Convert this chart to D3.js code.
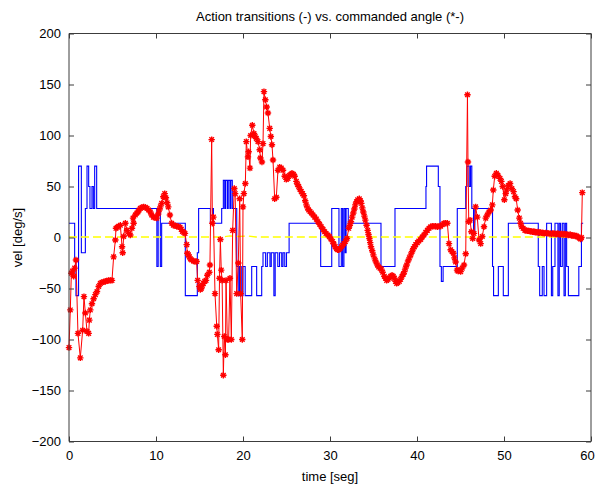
<!DOCTYPE html>
<html>
<head>
<meta charset="utf-8">
<script src="https://cdn.jsdelivr.net/npm/d3@7/dist/d3.min.js"></script>
<style>
  body { margin: 0; background: #fff; }
  text { font-family: "Liberation Sans", Arial, sans-serif; fill: #000; }
</style>
</head>
<body>
<svg id="mainSvg" width="597" height="489"></svg>
<script>
// axis ticks
var xTicks = [0, 10, 20, 30, 40, 50, 60];
var yTicks = [-200, -150, -100, -50, 0, 50, 100, 150, 200];

// action transitions (-), step signal
var blueTime = [0, 0.65, 0.8, 1.1, 1.42, 1.88, 2.07, 2.26, 2.41, 2.64, 2.8, 2.95, 3.18,
  10.1, 10.25, 10.5, 10.65, 13.37, 14.75, 14.9, 16.25, 16.5, 16.6, 17.55, 17.74, 17.9, 18.0,
  18.2, 18.3, 18.5, 18.6, 18.77, 19.28, 19.45, 19.6, 19.8, 20.0, 20.25, 21.0, 21.57, 22.15,
  22.3, 22.6, 22.8, 23.1, 23.25, 23.55, 23.7, 24.0, 24.2, 24.45, 24.6, 24.8, 25.0, 25.3,
  28.93, 30.2, 31.03, 31.3, 31.45, 31.6, 31.75, 31.85, 32.1, 35.86, 37.47, 41.03, 41.1,
  42.45, 42.64, 42.8, 43.0, 44.63, 45.6, 45.75, 46.0, 46.15, 46.3, 46.5, 46.65, 48.68,
  48.8, 49.35, 49.92, 50.5, 53.94, 54.1, 54.4, 54.6, 54.9, 55.45, 55.6, 55.86, 56.2,
  56.35, 56.5, 56.7, 56.9, 57.05, 57.2, 57.4, 58.6, 58.9, 59.1];
var blueVel = [14, -21, -57, 70, -15, 28.5, 70, 50, 28.5, 50, 28.5, 70, 28.5,
  -28.5, 28.5, -28.5, 14, -57, -15, 28.5, 14, 28.5, 14, 28.5, 56, 28.5, 56,
  28.5, 56, 28.5, 56, 28.5, -28.5, -57, -28.5, -57, -28.5, -57, -28.5, -57, -28.5,
  -15, -28.5, -15, -28.5, -15, -57, -15, -28.5, -15, -28.5, -15, -28.5, -15, 14,
  -28.5, 28.5, -28.5, 28.5, -28.5, 28.5, -15, 28.5, 14, -28.5, 28.5, 50, 70,
  50, -28.5, -43, -28.5, 28.5, 50, 70, 50, 70, 28.5, 4, 28.5, -28.5,
  -57, -28.5, -57, 14, -28.5, -57, -28.5, -57, 14, -57, -28.5, 14, -57,
  14, -28.5, 14, -57, 14, -28.5, -57, -28.5, 14, 14];

// commanded angle (*-)
var redTime = [0, 0.15, 0.27, 0.4, 0.54, 0.65, 0.8, 1.03, 1.3, 1.57, 1.72, 1.88, 2.07, 2.26,
  2.34, 2.45, 2.64, 2.83, 3.03, 3.22, 3.41, 3.6, 3.79, 4.0, 4.18, 4.37, 4.56, 4.75, 4.94,
  5.13, 5.33, 5.4, 5.55, 5.71, 5.9, 6.1, 6.17, 6.28, 6.48, 6.67, 6.86, 7.05, 7.24, 7.36,
  7.43, 7.62, 7.8, 7.93, 8.05, 8.2, 8.4, 8.58, 8.78, 8.97, 9.15, 9.35, 9.5, 9.7, 9.9,
  10.08, 10.25, 10.38, 10.5, 10.65, 10.84, 11.0, 11.14, 11.28, 11.41, 11.6, 11.8, 11.99,
  12.2, 12.38, 12.57, 12.76, 12.9, 13.03, 13.2, 13.33, 13.53, 13.6, 13.72, 13.83, 13.95,
  14.1, 14.3, 14.48, 14.67, 14.79, 14.98, 15.1, 15.2, 15.32, 15.44, 15.6, 15.75, 15.9,
  16.13, 16.2, 16.4, 16.48, 16.6, 16.78, 16.98, 17.05, 17.2, 17.3, 17.4, 17.5, 17.6,
  17.74, 17.85, 17.98, 18.05, 18.2, 18.35, 18.5, 18.66, 18.81, 19.0, 19.1, 19.27, 19.46,
  19.62, 19.73, 19.92, 20.0, 20.1, 20.27, 20.38, 20.57, 20.65, 20.8, 20.88, 21.07, 21.26,
  21.4, 21.53, 21.72, 21.92, 22.0, 22.18, 22.3, 22.41, 22.57, 22.72, 22.87, 23.07, 23.2,
  23.33, 23.45, 23.64, 23.83, 24.02, 24.22, 24.4, 24.6, 24.79, 24.98, 25.17, 25.36, 25.5,
  25.63, 25.8, 25.94, 26.13, 26.27, 26.4, 26.55, 26.7, 26.85, 27.0, 27.15, 27.28, 27.42,
  27.55, 27.7, 27.86, 28.05, 28.24, 28.43, 28.62, 28.8, 29.0, 29.2, 29.39, 29.54, 29.77,
  29.92, 30.1, 30.3, 30.45, 30.6, 30.75, 30.88, 31.0, 31.15, 31.3, 31.46, 31.6, 31.77,
  31.95, 32.15, 32.28, 32.41, 32.55, 32.68, 32.8, 32.91, 33.05, 33.18, 33.37, 33.5, 33.6,
  33.72, 33.83, 33.95, 34.06, 34.2, 34.33, 34.43, 34.53, 34.62, 34.71, 34.85, 34.98,
  35.15, 35.29, 35.45, 35.59, 35.75, 35.9, 36.05, 36.24, 36.38, 36.51, 36.67, 36.82,
  36.97, 37.13, 37.27, 37.4, 37.53, 37.66, 37.8, 37.97, 38.12, 38.28, 38.42, 38.55,
  38.68, 38.81, 38.97, 39.12, 39.28, 39.43, 39.56, 39.7, 39.85, 40.04, 40.2, 40.42, 40.6,
  40.8, 41.0, 41.19, 41.38, 41.57, 41.75, 41.95, 42.15, 42.34, 42.53, 42.72, 42.9, 43.1,
  43.3, 43.49, 43.68, 43.87, 44.03, 44.18, 44.3, 44.44, 44.6, 44.72, 44.83, 45.02, 45.2,
  45.4, 45.6, 45.8, 45.86, 45.95, 46.1, 46.25, 46.4, 46.55, 46.74, 46.93, 47.13, 47.32,
  47.5, 47.7, 47.9, 48.08, 48.27, 48.47, 48.66, 48.77, 48.93, 49.12, 49.3, 49.54, 49.7,
  49.85, 50.04, 50.2, 50.3, 50.5, 50.7, 50.9, 51.1, 51.26, 51.4, 51.57, 51.76, 51.9,
  52.03, 52.2, 52.4, 52.55, 52.7, 52.85, 53.0, 53.15, 53.3, 53.45, 53.6, 53.75, 53.9,
  54.05, 54.2, 54.35, 54.5, 54.65, 54.8, 54.95, 55.1, 55.3, 55.45, 55.6, 55.75, 55.9,
  56.05, 56.2, 56.35, 56.5, 56.65, 56.8, 56.95, 57.1, 57.25, 57.4, 57.6, 57.75, 57.9,
  58.05, 58.2, 58.35, 58.5, 58.65, 58.8, 58.9, 59.0];
var redVel = [-108, -71, -35, -33, -38, -30, -22, -94, -118, -91, -58, -74, -92, -94,
  -81, -71, -65, -60, -56, -53, -48, -45, -44, -43.5, -43, -42.5, -42, -42, -42,
  -19, -2.5, 9, 10, 11, 12, -9, -15, 1, 14, 7, 4, 2.5, 9, 19,
  14, 22, 24, 25, 27, 28.6, 29.5, 30, 29.5, 28.6, 27, 25, 22, 20, 19.5,
  19, 23, 27, 30, 33.5, 40, 43, 39, 34, 30, 22, 14, 12,
  11.5, 11, 10.5, 10, 8, 6, 5, 4, -7, -15.5, -17, -19, -21,
  -22, -23, -23.5, -23.5, -42, -48, -51, -50, -47, -45, -43, -42, -37,
  -34, -27, 96, 14, 20, -55, -87, -95, -110, -40, -2, -32, -42,
  -135, -97, -115, -42, -100, -100, -40, -100, 7, 48, 43, -55, -25,
  38, -55, -100, 30, 43, 53, 94, 79, 84, 68, 100, 110, 102,
  99, 97, 94, 86, 78, 74, 92, 143, 135, 128, 122, 107, 99,
  91, 76, 38, 39.5, 66, 69, 68, 66, 60, 57, 58, 61, 62,
  63, 62, 60, 55, 52, 50, 47, 45, 43, 41, 36, 32, 29,
  27, 25.5, 24, 22, 20, 18, 15.5, 13, 10.5, 8, 5.7, 4, 2.5,
  1, -1.5, -4, -6.5, -9, -11, -12, -12, -11, -9, -7.5, -6, -4,
  -1, 9, 12, 15.5, 20, 24, 28, 32, 35, 37, 38, 36, 33.5,
  29, 25, 21, 17, 12, 7, 3, -1, -5, -9, -13, -17,
  -21, -24, -27, -29, -30, -31, -34, -38, -40, -42, -41, -40,
  -38, -37, -38, -40, -43, -45, -44, -43, -41, -38, -36, -33.5,
  -30, -27, -23, -20, -17, -14, -11, -9, -7, -5, -3.5, -2, 0.5,
  2.5, 5, 7, 9, 10.6, 11, 11, 11, 10.6, 11, 11, 12.5, 14,
  14, 14, -6, -12, -14, -15.5, -20, -24, -32, -33, -32, -33.5, -30,
  -27, -16, 140, 74, 15.5, 17, 5.7, -1, 4, 30, 20, -2.5, -6,
  1, 10.6, 19, 22, 25, 27, 32, 46.5, 60, 63, 61, 58, 55,
  50, 37, 43, 46.5, 51, 53, 48, 45, 40, 38, 27, 19, 14,
  10.6, 9, 7, 7, 6.5, 6.5, 6, 6, 5.5, 6, 5, 5, 5.5,
  4.5, 5, 4.5, 4.4, 4, 4.5, 4, 4, 4, 3.5, 4, 4, 3.5,
  3.5, 4, 3, 3.5, 3.5, 3, 3.5, 3, 3, 2.5, 3, 2, 2,
  2, 1.5, 1.5, 0.5, -0.5, -1.5, 0, 44];

// reference signal (dashed yellow)
var yellowTime = [0, 17.5, 18.5, 19.5, 20.5, 21.5, 22.5, 59.1];
var yellowVel = [0.5, 0.5, 1.5, 1, 1.5, 0.5, 0.5, 0.5];

var svg = d3.select("#mainSvg");
var plotLeft = 69, plotRight = 591, plotTop = 33.5, plotBottom = 441.5;

var x = d3.scaleLinear().domain([0, 60]).range([plotLeft, plotRight]);
var y = d3.scaleLinear().domain([-200, 200]).range([plotBottom, plotTop]);

svg.append("rect")
  .attr("x", 0).attr("y", 0).attr("width", 597).attr("height", 489)
  .attr("fill", "#fff");

var blueData = d3.zip(blueTime, blueVel);
var redData = d3.zip(redTime, redVel);
var yellowData = d3.zip(yellowTime, yellowVel);

var stepLine = d3.line()
  .x(function(d) { return x(d[0]); })
  .y(function(d) { return y(d[1]); })
  .curve(d3.curveStepAfter);
var line = d3.line()
  .x(function(d) { return x(d[0]); })
  .y(function(d) { return y(d[1]); });

svg.append("path")
  .datum(blueData)
  .attr("d", stepLine)
  .attr("fill", "none")
  .attr("stroke", "#0000ff")
  .attr("stroke-width", 1.1);

svg.append("path")
  .datum(yellowData)
  .attr("d", line)
  .attr("fill", "none")
  .attr("stroke", "#ffff00")
  .attr("stroke-width", 1.3)
  .attr("stroke-dasharray", "8,4");

svg.append("path")
  .datum(redData)
  .attr("d", line)
  .attr("fill", "none")
  .attr("stroke", "#ff0000")
  .attr("stroke-width", 1);

// '*' markers
var r = 3.2, dd = 2.3;
var star = "M" + (-r) + ",0H" + r + "M0," + (-r) + "V" + r +
  "M" + (-dd) + "," + (-dd) + "L" + dd + "," + dd + "M" + (-dd) + "," + dd + "L" + dd + "," + (-dd);
svg.append("g").selectAll("path")
  .data(redData)
  .enter().append("path")
    .attr("transform", function(d) { return "translate(" + x(d[0]) + "," + y(d[1]) + ")"; })
    .attr("d", star)
    .attr("fill", "none")
    .attr("stroke", "#ff0000")
    .attr("stroke-width", 1.4);

// box + ticks (matlab style, ticks inside)
var axisColor = "#3c3c3c";
var bottomAxis = svg.append("g")
  .attr("transform", "translate(0," + plotBottom + ")")
  .call(d3.axisBottom(x).tickValues(xTicks).tickSize(-5).tickPadding(9).tickFormat(d3.format("d")));
var topAxis = svg.append("g")
  .attr("transform", "translate(0," + plotTop + ")")
  .call(d3.axisTop(x).tickValues(xTicks).tickSize(-5).tickFormat(""));
var leftAxis = svg.append("g")
  .attr("transform", "translate(" + plotLeft + ",0)")
  .call(d3.axisLeft(y).tickValues(yTicks).tickSize(-5).tickPadding(8).tickFormat(d3.format("d")));
var rightAxis = svg.append("g")
  .attr("transform", "translate(" + plotRight + ",0)")
  .call(d3.axisRight(y).tickValues(yTicks).tickSize(-5).tickFormat(""));

svg.selectAll(".domain").attr("stroke", axisColor).attr("stroke-width", 1);
svg.selectAll(".tick line").attr("stroke", axisColor);
svg.selectAll(".tick text")
  .attr("font-family", "Liberation Sans, Arial, sans-serif")
  .attr("font-size", 13)
  .attr("fill", "#000");
// last x label sits on the page edge, pull it in a little
bottomAxis.selectAll(".tick text").filter(function(d) { return d === 60; })
  .attr("dx", -4);
// plain box, no d3 end caps
bottomAxis.select(".domain").attr("d", "M" + plotLeft + ",0H" + plotRight);
topAxis.select(".domain").attr("d", "M" + plotLeft + ",0H" + plotRight);
leftAxis.select(".domain").attr("d", "M0," + plotTop + "V" + plotBottom);
rightAxis.select(".domain").attr("d", "M0," + plotTop + "V" + plotBottom);

svg.append("text")
  .attr("x", (plotLeft + plotRight) / 2)
  .attr("y", 21)
  .attr("text-anchor", "middle")
  .attr("font-size", 13)
  .text("Action transitions (-) vs. commanded angle (*-)");

svg.append("text")
  .attr("x", (plotLeft + plotRight) / 2)
  .attr("y", 481)
  .attr("text-anchor", "middle")
  .attr("font-size", 13)
  .text("time [seg]");

svg.append("text")
  .attr("transform", "translate(22," + ((plotTop + plotBottom) / 2) + ") rotate(-90)")
  .attr("text-anchor", "middle")
  .attr("font-size", 13)
  .text("vel [deg/s]");
</script>
</body>
</html>
